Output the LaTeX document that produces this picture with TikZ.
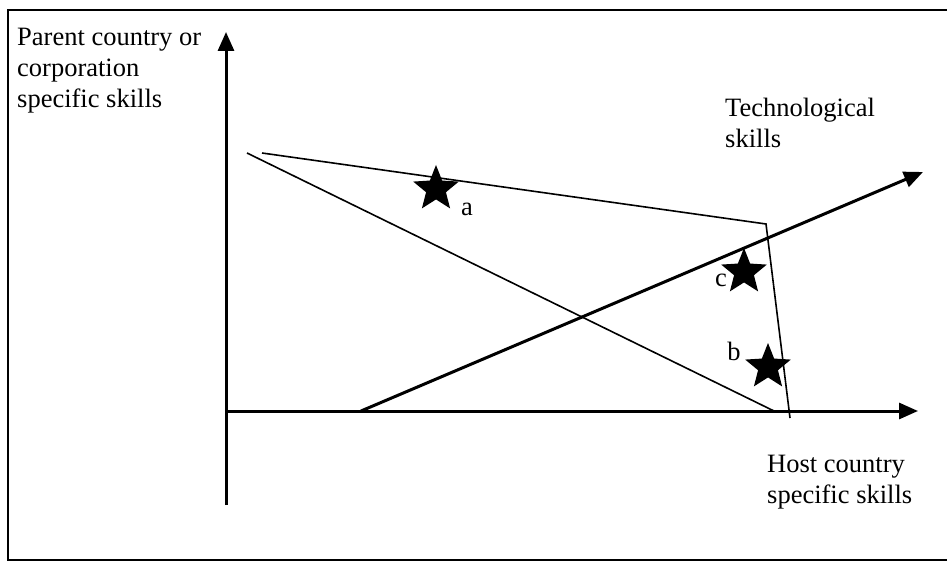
\documentclass[tikz,border=0pt]{standalone}
\usepackage{fontspec}
\setmainfont{Liberation Serif}
\usetikzlibrary{arrows.meta,shapes.geometric}
\begin{document}
\begin{tikzpicture}[x=1pt,y=-1pt,
  axis/.style={line width=3pt,-{Triangle[width=16pt,length=19pt]}},
  thin line/.style={line width=1.6pt,line join=miter},
  starmark/.style={star,star points=5,star point ratio=2.3,fill=black,minimum size=48pt,inner sep=0pt},
  lbl/.style={font=\fontsize{26.5}{31}\selectfont,inner sep=0pt,align=left,anchor=north west},
  pt/.style={font=\fontsize{26.5}{31}\selectfont,inner sep=0pt}]
\useasboundingbox (0,0) rectangle (947,561);
\begin{scope}
\clip (0,0) rectangle (947,561);
\draw[line width=2pt] (8,10) rectangle (960,560);
\end{scope}
% axes
\coordinate (O) at (226,411);
\coordinate (Ybot) at (226,505);
\coordinate (Ytop) at (226,32);
\coordinate (Xend) at (918,411);
\coordinate (Tstart) at (361,411);
\coordinate (Tend) at (923,172);
\draw[axis] (Ybot) -- (Ytop);
\draw[axis] (O) -- (Xend);
\draw[axis] (Tstart) -- (Tend);
% lines
\coordinate (D1) at (247,153);
\coordinate (D2) at (774,411);
\draw[thin line] (D1) -- (D2);
\coordinate (P1) at (262,153);
\coordinate (P2) at (766,224);
\coordinate (P3) at (790,418);
\draw[thin line] (P1) -- (P2) -- (P3);
% stars
\node[starmark] (sa) at (436,189) {};
\node[starmark] (sc) at (744,272) {};
\node[starmark] (sb) at (768,367) {};
\node[pt] (la) at (467,209) {a};
\node[pt] (lc) at (721,280) {c};
\node[pt] (lb) at (734,351) {b};
% labels
\node[lbl] (parent) at (17,28) {Parent country or\\corporation\\specific skills};
\node[lbl] (tech) at (725,98) {Technological\\skills};
\node[lbl] (host) at (767,455) {Host country\\specific skills};
\end{tikzpicture}
\end{document}
